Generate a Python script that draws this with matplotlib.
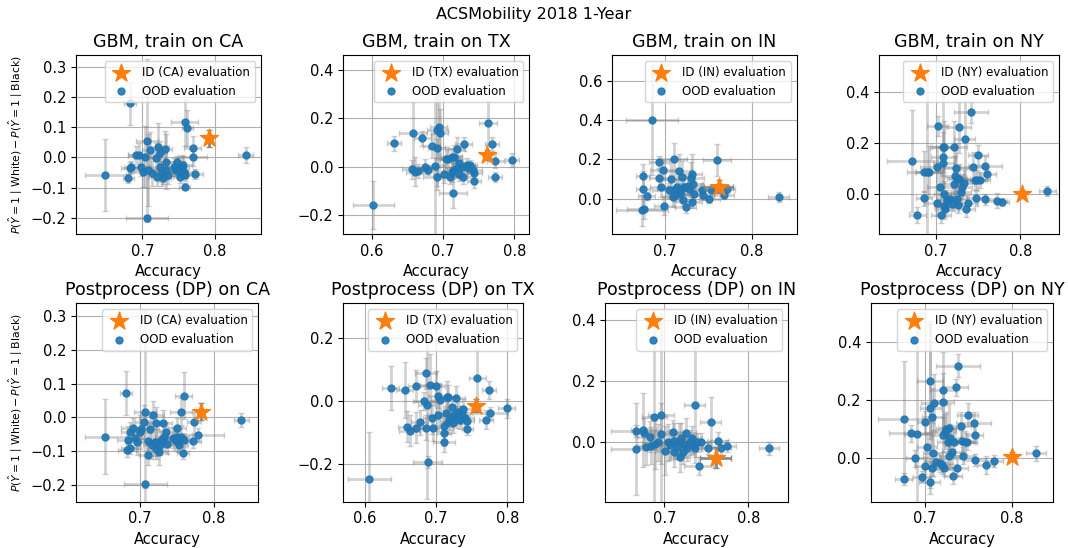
import numpy as np
import matplotlib
matplotlib.use("Agg")
import matplotlib.pyplot as plt
from matplotlib.ticker import MultipleLocator

# ---- data: GBM trained on CA ----
gbm_ca_acc = [0.683, 0.649, 0.681, 0.683, 0.685, 0.692, 0.696, 0.698, 0.701, 0.704, 0.707, 0.711, 0.708, 0.707, 0.714,
              0.719, 0.722, 0.724, 0.724, 0.720, 0.727, 0.731, 0.733, 0.733, 0.736, 0.729, 0.747, 0.749, 0.751, 0.752,
              0.754, 0.756, 0.757, 0.758, 0.758, 0.762, 0.759, 0.769, 0.769, 0.773, 0.842, 0.743, 0.745]
gbm_ca_gap = [0.178, -0.058, -0.069, -0.036, -0.033, 0.007, 0.007, -0.031, -0.047, 0.002, 0.055, 0.024, -0.042, -0.199, -0.053,
              -0.003, 0.033, 0.015, -0.031, -0.064, -0.053, 0.026, -0.014, -0.042, -0.058, -0.069, -0.014, -0.031, -0.047, -0.064,
              -0.031, -0.025, -0.047, 0.116, -0.097, 0.098, -0.058, 0.030, 0.002, -0.055, 0.008, -0.031, -0.042]
gbm_ca_acc_err = [0.008, 0.028, 0.008, 0.012, 0.010, 0.012, 0.015, 0.012, 0.020, 0.015, 0.015, 0.012, 0.020, 0.029, 0.012,
                  0.012, 0.015, 0.010, 0.015, 0.012, 0.012, 0.010, 0.012, 0.010, 0.012, 0.010, 0.012, 0.010, 0.012, 0.010,
                  0.010, 0.012, 0.012, 0.018, 0.008, 0.008, 0.010, 0.012, 0.020, 0.010, 0.010, 0.012, 0.010]
gbm_ca_gap_err = [0.070, 0.120, 0.015, 0.020, 0.020, 0.030, 0.040, 0.030, 0.050, 0.100, 0.270, 0.060, 0.120, 0.010, 0.040,
                  0.050, 0.080, 0.040, 0.050, 0.030, 0.040, 0.060, 0.090, 0.030, 0.030, 0.020, 0.020, 0.030, 0.020, 0.020,
                  0.040, 0.030, 0.020, 0.078, 0.012, 0.060, 0.020, 0.040, 0.030, 0.015, 0.025, 0.030, 0.020]

# ---- data: GBM trained on TX ----
gbm_tx_acc = [0.602, 0.631, 0.658, 0.657, 0.660, 0.665, 0.671, 0.674, 0.679, 0.684, 0.688, 0.691, 0.692, 0.694, 0.695,
              0.692, 0.701, 0.704, 0.707, 0.710, 0.712, 0.714, 0.715, 0.713, 0.719, 0.716, 0.720, 0.722, 0.723, 0.726,
              0.728, 0.729, 0.733, 0.735, 0.738, 0.742, 0.744, 0.743, 0.763, 0.769, 0.773, 0.773, 0.797]
gbm_tx_gap = [-0.159, 0.097, 0.138, -0.011, -0.021, -0.017, 0.117, 0.000, -0.014, 0.086, 0.003, 0.076, 0.152, 0.163, 0.138,
              -0.041, -0.028, 0.030, 0.034, -0.041, 0.039, -0.110, 0.041, -0.021, 0.072, -0.014, -0.007, 0.017, -0.028, 0.000,
              -0.041, 0.094, 0.007, -0.007, 0.007, -0.014, -0.025, -0.059, 0.182, 0.094, 0.025, -0.041, 0.028]
gbm_tx_acc_err = [0.029, 0.010, 0.020, 0.015, 0.012, 0.012, 0.012, 0.015, 0.012, 0.012, 0.015, 0.012, 0.015, 0.012, 0.012,
                  0.020, 0.015, 0.015, 0.012, 0.012, 0.015, 0.020, 0.012, 0.012, 0.012, 0.010, 0.012, 0.010, 0.012, 0.012,
                  0.012, 0.012, 0.012, 0.010, 0.010, 0.012, 0.010, 0.010, 0.012, 0.010, 0.012, 0.010, 0.010]
gbm_tx_gap_err = [0.100, 0.030, 0.130, 0.040, 0.060, 0.030, 0.030, 0.030, 0.020, 0.050, 0.300, 0.040, 0.250, 0.200, 0.100,
                  0.040, 0.040, 0.050, 0.040, 0.030, 0.040, 0.060, 0.050, 0.040, 0.050, 0.030, 0.030, 0.030, 0.030, 0.030,
                  0.030, 0.030, 0.030, 0.020, 0.020, 0.020, 0.030, 0.030, 0.090, 0.030, 0.030, 0.020, 0.030]

# ---- data: GBM trained on IN ----
gbm_in_acc = [0.685, 0.675, 0.675, 0.679, 0.674, 0.676, 0.693, 0.693, 0.695, 0.698, 0.699, 0.705, 0.707, 0.710, 0.709,
              0.711, 0.712, 0.714, 0.716, 0.717, 0.719, 0.720, 0.721, 0.722, 0.724, 0.726, 0.728, 0.730, 0.731, 0.731,
              0.732, 0.733, 0.743, 0.744, 0.751, 0.753, 0.760, 0.768, 0.771, 0.831]
gbm_in_gap = [0.402, 0.117, 0.049, 0.012, -0.061, -0.053, 0.103, 0.185, 0.058, 0.146, -0.036, 0.041, 0.100, 0.202, 0.007,
              0.049, 0.020, 0.058, 0.139, 0.024, 0.041, 0.112, -0.010, 0.058, -0.044, 0.066, 0.049, 0.105, 0.125, -0.019,
              0.075, 0.024, 0.041, 0.020, -0.002, 0.041, 0.197, 0.020, 0.049, 0.007]
gbm_in_acc_err = [0.030, 0.008, 0.008, 0.010, 0.030, 0.020, 0.012, 0.012, 0.012, 0.015, 0.012, 0.020, 0.015, 0.015, 0.012,
                  0.020, 0.012, 0.012, 0.015, 0.012, 0.012, 0.015, 0.010, 0.012, 0.012, 0.015, 0.012, 0.015, 0.012, 0.012,
                  0.012, 0.012, 0.012, 0.012, 0.012, 0.012, 0.016, 0.012, 0.010, 0.012]
gbm_in_gap_err = [0.280, 0.060, 0.090, 0.020, 0.080, 0.050, 0.050, 0.030, 0.050, 0.050, 0.050, 0.040, 0.100, 0.080, 0.050,
                  0.050, 0.040, 0.040, 0.090, 0.040, 0.040, 0.080, 0.030, 0.040, 0.030, 0.050, 0.040, 0.080, 0.100, 0.030,
                  0.050, 0.030, 0.040, 0.030, 0.020, 0.030, 0.080, 0.020, 0.020, 0.025]

# ---- data: GBM trained on NY ----
gbm_ny_acc = [0.672, 0.678, 0.686, 0.686, 0.690, 0.692, 0.701, 0.702, 0.701, 0.705, 0.706, 0.708, 0.710, 0.709, 0.709,
              0.710, 0.710, 0.711, 0.713, 0.717, 0.719, 0.722, 0.722, 0.723, 0.724, 0.725, 0.725, 0.726, 0.727, 0.728,
              0.730, 0.731, 0.733, 0.734, 0.736, 0.738, 0.742, 0.744, 0.746, 0.748, 0.749, 0.750, 0.752, 0.758, 0.761,
              0.758, 0.772, 0.779, 0.832]
gbm_ny_gap = [0.130, -0.082, -0.017, 0.087, 0.087, 0.087, 0.107, 0.266, -0.034, 0.029, -0.082, 0.183, 0.185, 0.143, 0.120,
              0.000, -0.047, -0.060, -0.023, -0.021, -0.037, 0.185, 0.039, 0.070, 0.100, 0.061, -0.021, -0.043, 0.261, 0.057,
              0.009, 0.029, 0.042, 0.214, -0.060, -0.034, 0.319, 0.104, 0.055, -0.017, 0.055, 0.153, 0.055, 0.110, 0.078,
              -0.021, -0.026, -0.030, 0.012]
gbm_ny_acc_err = [0.030, 0.010, 0.010, 0.020, 0.015, 0.015, 0.020, 0.012, 0.015, 0.015, 0.012, 0.015, 0.015, 0.015, 0.012,
                  0.012, 0.012, 0.012, 0.012, 0.012, 0.012, 0.015, 0.012, 0.012, 0.015, 0.012, 0.012, 0.012, 0.015, 0.012,
                  0.012, 0.012, 0.012, 0.012, 0.010, 0.012, 0.020, 0.015, 0.012, 0.012, 0.012, 0.012, 0.012, 0.020, 0.010,
                  0.012, 0.012, 0.008, 0.010]
gbm_ny_gap_err = [0.200, 0.030, 0.030, 0.080, 0.420, 0.100, 0.080, 0.040, 0.050, 0.080, 0.030, 0.200, 0.100, 0.100, 0.050,
                  0.050, 0.050, 0.030, 0.040, 0.030, 0.030, 0.100, 0.060, 0.080, 0.100, 0.050, 0.030, 0.030, 0.100, 0.060,
                  0.050, 0.050, 0.050, 0.150, 0.030, 0.030, 0.040, 0.060, 0.040, 0.030, 0.040, 0.040, 0.030, 0.040, 0.020,
                  0.020, 0.030, 0.015, 0.020]

# ---- data: Postprocess (DP) on CA ----
dp_ca_acc = [0.653, 0.681, 0.682, 0.684, 0.686, 0.687, 0.690, 0.693, 0.696, 0.700, 0.702, 0.705, 0.707, 0.707, 0.711,
             0.711, 0.714, 0.717, 0.716, 0.720, 0.722, 0.722, 0.726, 0.727, 0.731, 0.729, 0.732, 0.735, 0.737, 0.745,
             0.747, 0.750, 0.750, 0.752, 0.753, 0.755, 0.756, 0.758, 0.759, 0.759, 0.772, 0.773, 0.778, 0.837]
dp_ca_gap = [-0.057, 0.071, -0.097, -0.067, -0.090, -0.043, -0.031, -0.060, -0.072, -0.043, -0.035, -0.013, 0.017, -0.198, -0.070,
             -0.112, -0.035, 0.007, -0.082, -0.074, -0.018, -0.094, -0.102, -0.082, -0.018, -0.067, -0.057, -0.043, -0.080, -0.060,
             -0.067, -0.057, -0.031, -0.072, -0.082, 0.017, -0.057, -0.107, 0.064, -0.067, -0.070, -0.015, -0.052, -0.008]
dp_ca_acc_err = [0.028, 0.008, 0.012, 0.015, 0.012, 0.012, 0.015, 0.012, 0.015, 0.015, 0.012, 0.012, 0.015, 0.029, 0.015,
                 0.012, 0.012, 0.015, 0.012, 0.012, 0.012, 0.012, 0.012, 0.012, 0.012, 0.012, 0.012, 0.012, 0.012, 0.012,
                 0.012, 0.012, 0.012, 0.012, 0.012, 0.015, 0.010, 0.008, 0.012, 0.010, 0.010, 0.010, 0.035, 0.010]
dp_ca_gap_err = [0.110, 0.065, 0.020, 0.040, 0.020, 0.030, 0.030, 0.030, 0.040, 0.050, 0.030, 0.050, 0.300, 0.010, 0.050,
                 0.030, 0.050, 0.040, 0.040, 0.040, 0.050, 0.030, 0.040, 0.030, 0.040, 0.030, 0.030, 0.030, 0.030, 0.030,
                 0.030, 0.020, 0.030, 0.030, 0.020, 0.040, 0.030, 0.015, 0.070, 0.020, 0.020, 0.030, 0.020, 0.020]

# ---- data: Postprocess (DP) on TX ----
dp_tx_acc = [0.606, 0.636, 0.656, 0.659, 0.663, 0.672, 0.672, 0.677, 0.683, 0.686, 0.687, 0.686, 0.688, 0.692, 0.694,
             0.696, 0.700, 0.702, 0.703, 0.705, 0.711, 0.711, 0.711, 0.714, 0.715, 0.717, 0.717, 0.720, 0.722, 0.723,
             0.725, 0.728, 0.729, 0.730, 0.733, 0.736, 0.738, 0.741, 0.743, 0.744, 0.758, 0.770, 0.774, 0.776, 0.799]
dp_tx_gap = [-0.248, 0.042, 0.035, -0.082, -0.095, 0.048, -0.085, -0.068, 0.000, 0.088, -0.013, -0.085, -0.195, 0.051, -0.055,
             -0.087, 0.046, -0.045, 0.017, 0.003, -0.132, -0.103, -0.079, -0.039, 0.014, -0.066, 0.011, -0.053, -0.018, -0.071,
             -0.045, 0.008, -0.057, -0.034, -0.060, -0.045, -0.025, -0.053, -0.064, -0.089, 0.074, -0.060, 0.035, -0.039, -0.023]
dp_tx_acc_err = [0.030, 0.012, 0.012, 0.012, 0.015, 0.012, 0.012, 0.012, 0.015, 0.015, 0.012, 0.012, 0.020, 0.015, 0.012,
                 0.015, 0.012, 0.015, 0.015, 0.012, 0.015, 0.010, 0.012, 0.015, 0.012, 0.012, 0.012, 0.012, 0.012, 0.012,
                 0.012, 0.012, 0.012, 0.012, 0.012, 0.012, 0.012, 0.012, 0.010, 0.008, 0.012, 0.010, 0.010, 0.025, 0.012]
dp_tx_gap_err = [0.150, 0.070, 0.090, 0.050, 0.050, 0.050, 0.050, 0.040, 0.030, 0.050, 0.300, 0.040, 0.020, 0.100, 0.050,
                 0.040, 0.050, 0.050, 0.040, 0.050, 0.030, 0.040, 0.050, 0.040, 0.050, 0.040, 0.040, 0.040, 0.030, 0.030,
                 0.030, 0.040, 0.030, 0.030, 0.030, 0.030, 0.030, 0.030, 0.030, 0.020, 0.090, 0.030, 0.030, 0.020, 0.030]

# ---- data: Postprocess (DP) on IN ----
dp_in_acc = [0.666, 0.666, 0.675, 0.676, 0.678, 0.683, 0.684, 0.688, 0.689, 0.693, 0.696, 0.696, 0.701, 0.704, 0.707,
             0.710, 0.711, 0.712, 0.715, 0.717, 0.719, 0.720, 0.722, 0.724, 0.726, 0.727, 0.730, 0.733, 0.734, 0.736,
             0.737, 0.739, 0.741, 0.744, 0.752, 0.755, 0.764, 0.767, 0.775, 0.825]
dp_in_gap = [0.037, -0.022, 0.041, 0.030, -0.014, 0.019, -0.011, 0.084, -0.007, 0.000, 0.090, 0.028, -0.028, 0.000, -0.009,
             0.033, -0.031, 0.004, -0.014, 0.002, -0.047, 0.013, -0.031, -0.007, 0.030, -0.020, 0.000, 0.013, -0.009, 0.123,
             -0.018, 0.000, -0.077, 0.002, -0.018, 0.068, 0.004, -0.020, -0.011, -0.020]
dp_in_acc_err = [0.030, 0.030, 0.015, 0.012, 0.012, 0.015, 0.015, 0.015, 0.015, 0.012, 0.015, 0.015, 0.012, 0.012, 0.012,
                 0.015, 0.012, 0.012, 0.012, 0.012, 0.012, 0.012, 0.012, 0.012, 0.012, 0.012, 0.012, 0.012, 0.012, 0.012,
                 0.012, 0.012, 0.018, 0.012, 0.008, 0.012, 0.012, 0.012, 0.010, 0.012]
dp_in_gap_err = [0.020, 0.150, 0.120, 0.050, 0.060, 0.050, 0.060, 0.300, 0.080, 0.060, 0.330, 0.100, 0.080, 0.060, 0.050,
                 0.040, 0.050, 0.060, 0.040, 0.060, 0.050, 0.050, 0.040, 0.040, 0.050, 0.040, 0.040, 0.040, 0.030, 0.190,
                 0.030, 0.030, 0.030, 0.030, 0.020, 0.080, 0.030, 0.020, 0.020, 0.020]

# ---- data: Postprocess (DP) on NY ----
dp_ny_acc = [0.675, 0.675, 0.683, 0.688, 0.690, 0.696, 0.700, 0.700, 0.702, 0.705, 0.706, 0.705, 0.708, 0.708, 0.709,
             0.710, 0.713, 0.717, 0.719, 0.720, 0.721, 0.721, 0.722, 0.723, 0.724, 0.726, 0.727, 0.728, 0.729, 0.731,
             0.732, 0.733, 0.735, 0.737, 0.738, 0.741, 0.743, 0.744, 0.746, 0.748, 0.749, 0.756, 0.757, 0.757, 0.770,
             0.780, 0.828]
dp_ny_gap = [0.134, -0.074, 0.084, -0.002, 0.081, -0.066, 0.123, -0.028, 0.038, 0.264, 0.173, -0.086, -0.035, 0.142, 0.015,
             0.188, -0.014, -0.020, -0.025, 0.079, 0.235, 0.192, -0.035, 0.090, 0.099, 0.055, 0.104, 0.007, 0.067, 0.018,
             -0.062, 0.053, 0.243, -0.035, 0.318, 0.108, 0.058, 0.007, 0.053, 0.055, 0.148, 0.119, 0.079, -0.008, -0.025,
             -0.012, 0.015]
dp_ny_acc_err = [0.030, 0.010, 0.025, 0.010, 0.015, 0.010, 0.010, 0.012, 0.012, 0.015, 0.012, 0.012, 0.012, 0.012, 0.012,
                 0.015, 0.012, 0.012, 0.012, 0.012, 0.015, 0.012, 0.012, 0.012, 0.012, 0.012, 0.012, 0.012, 0.012, 0.012,
                 0.010, 0.012, 0.015, 0.012, 0.025, 0.012, 0.012, 0.012, 0.012, 0.012, 0.012, 0.020, 0.010, 0.012, 0.010,
                 0.010, 0.012]
dp_ny_gap_err = [0.200, 0.020, 0.030, 0.030, 0.420, 0.020, 0.040, 0.030, 0.050, 0.200, 0.300, 0.020, 0.030, 0.100, 0.080,
                 0.100, 0.030, 0.030, 0.030, 0.060, 0.130, 0.100, 0.030, 0.060, 0.060, 0.050, 0.080, 0.050, 0.050, 0.040,
                 0.030, 0.050, 0.030, 0.030, 0.040, 0.050, 0.040, 0.030, 0.040, 0.030, 0.040, 0.040, 0.030, 0.020, 0.030,
                 0.020, 0.025]

# in-domain (ID) results: acc, gap, acc_err, gap_err
id_acc = [0.791, 0.761, 0.762, 0.802, 0.783, 0.756, 0.761, 0.800]
id_gap = [0.063, 0.048, 0.061, 0.000, 0.017, -0.015, -0.050, 0.003]
id_acc_err = [0.004, 0.005, 0.017, 0.004, 0.004, 0.005, 0.018, 0.004]
id_gap_err = [0.028, 0.020, 0.035, 0.015, 0.025, 0.020, 0.035, 0.015]

states = ["CA", "TX", "IN", "NY", "CA", "TX", "IN", "NY"]
titles = ["GBM, train on CA", "GBM, train on TX", "GBM, train on IN", "GBM, train on NY",
          "Postprocess (DP) on CA", "Postprocess (DP) on TX", "Postprocess (DP) on IN", "Postprocess (DP) on NY"]

ood = [
    (gbm_ca_acc, gbm_ca_gap, gbm_ca_acc_err, gbm_ca_gap_err),
    (gbm_tx_acc, gbm_tx_gap, gbm_tx_acc_err, gbm_tx_gap_err),
    (gbm_in_acc, gbm_in_gap, gbm_in_acc_err, gbm_in_gap_err),
    (gbm_ny_acc, gbm_ny_gap, gbm_ny_acc_err, gbm_ny_gap_err),
    (dp_ca_acc, dp_ca_gap, dp_ca_acc_err, dp_ca_gap_err),
    (dp_tx_acc, dp_tx_gap, dp_tx_acc_err, dp_tx_gap_err),
    (dp_in_acc, dp_in_gap, dp_in_acc_err, dp_in_gap_err),
    (dp_ny_acc, dp_ny_gap, dp_ny_acc_err, dp_ny_gap_err),
]

# axis limits and tick steps
xlims = [(0.609, 0.863), (0.560, 0.821), (0.6385, 0.852), (0.633, 0.846),
         (0.6135, 0.860), (0.5696, 0.8224), (0.6294, 0.8476), (0.637, 0.848)]
ylims = [(-0.253, 0.338), (-0.278, 0.462), (-0.181, 0.732), (-0.156, 0.543),
         (-0.250, 0.338), (-0.321, 0.311), (-0.194, 0.4546), (-0.1525, 0.534)]
ysteps = [0.1, 0.2, 0.2, 0.2, 0.1, 0.2, 0.2, 0.2]

# axes boxes in pixels (left, right) for 1068x548 figure
W, H = 1068, 548
top_row = (55, 234)
bot_row = (303.3, 501.7)
boxes_x = [(76, 261), (343.3, 529.3), (611.7, 796.7), (879.3, 1059),
           (76, 258.3), (343.3, 523.3), (605, 788.3), (870.7, 1053.3)]

fig = plt.figure(figsize=(W / 100, H / 100), dpi=100)
fig.suptitle("ACSMobility 2018 1-Year", fontsize=11.6, y=0.987)

ylabel = r"$P(\hat{Y}=1 \mid \mathrm{White}) - P(\hat{Y}=1 \mid \mathrm{Black})$"

for i in range(8):
    row = top_row if i < 4 else bot_row
    x0, x1 = boxes_x[i]
    ax = fig.add_axes([x0 / W, 1 - row[1] / H, (x1 - x0) / W, (row[1] - row[0]) / H])
    acc, gap, acc_err, gap_err = ood[i]

    ax.errorbar(acc, gap, xerr=acc_err, yerr=gap_err, fmt="none", ecolor="gray",
                alpha=0.35, elinewidth=2, capsize=2.5, capthick=1, zorder=2)
    ax.scatter(acc, gap, s=25, color="tab:blue", alpha=0.9, label="OOD evaluation", zorder=3)

    ax.errorbar([id_acc[i]], [id_gap[i]], xerr=[id_acc_err[i]], yerr=[id_gap_err[i]], fmt="none",
                ecolor="gray", alpha=0.9, elinewidth=2, capsize=2.5, capthick=1, zorder=4)
    ax.scatter([id_acc[i]], [id_gap[i]], s=180, marker="*", color="tab:orange",
               label=f"ID ({states[i]}) evaluation", zorder=5)

    ax.set_xlim(*xlims[i])
    ax.set_ylim(*ylims[i])
    ax.xaxis.set_major_locator(MultipleLocator(0.1))
    ax.yaxis.set_major_locator(MultipleLocator(ysteps[i]))
    ax.tick_params(labelsize=10.5)
    ax.grid(True)
    ax.set_axisbelow(True)
    ax.set_title(titles[i], fontsize=12.6)
    ax.set_xlabel("Accuracy", fontsize=10.5)
    if i % 4 == 0:
        ax.set_ylabel(ylabel, fontsize=7.8)

    handles, labels = ax.get_legend_handles_labels()
    ax.legend(handles[::-1], labels[::-1], loc="upper right", fontsize=8.5)

fig.savefig("out.png", dpi=100)
